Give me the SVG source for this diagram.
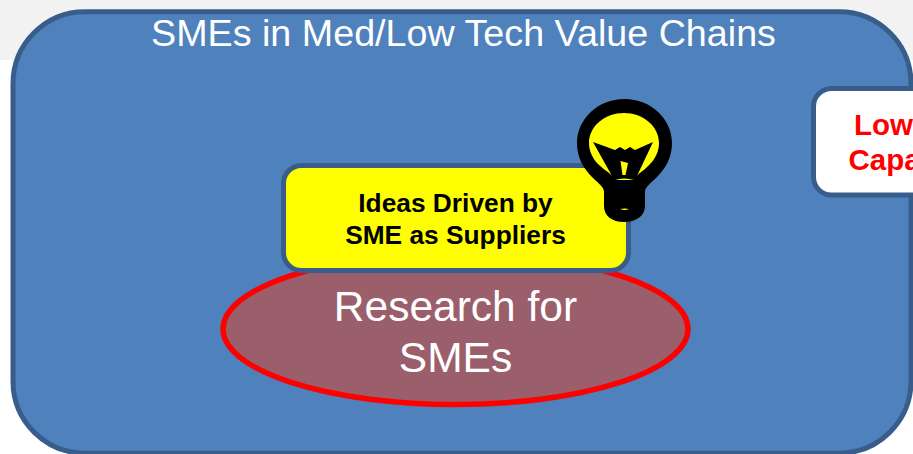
<svg xmlns="http://www.w3.org/2000/svg" width="913" height="454" viewBox="0 0 913 454">
<style>
.w{fill:#fff;font-family:"Liberation Sans",Arial,sans-serif;text-anchor:middle}
.b{fill:#000;font:bold 26.300px "Liberation Sans",Arial,sans-serif;text-anchor:middle}
.r{fill:#f00;font:bold 29.500px "Liberation Sans",Arial,sans-serif}
.box{stroke:#385d8a;stroke-width:5}
</style>
<rect width="913" height="454" fill="#fff"/>
<rect width="913" height="60" fill="#f2f2f2"/>
<g id="outer">
<rect x="13" y="11.700" width="898" height="441.500" rx="72" fill="#4f81bd" stroke="#385d8a" stroke-width="5"/>
<text class="w" x="463.500" y="46" font-size="37.700">SMEs in Med/Low Tech Value Chains</text>
</g>
<g id="research">
<ellipse cx="455.500" cy="329" rx="232.500" ry="75.500" fill="#9b5f6c" stroke="#f00" stroke-width="5.500"/>
<text class="w" x="455.500" y="321" font-size="42.500">Research for</text>
<text class="w" x="455.500" y="372" font-size="42.500">SMEs</text>
</g>
<g id="ideas">
<rect x="283.500" y="165.500" width="345" height="105" rx="18" fill="#ff0" class="box"/>
<text class="b" x="455.500" y="212">Ideas Driven by</text>
<text class="b" x="455.500" y="244">SME as Suppliers</text>
</g>
<g id="bulb">
<path d="M624.500 99C598 99 577 119 577 143C577 157 583 168 592 177C599 184 604 187 604 192L604 206C604 216 612 222 624 222C636 222 645 216 645 206L645 192C645 187 650 184 657 177C666 168 672 157 672 143C672 119 651 99 624.500 99Z" fill="#000"/>
<path d="M624 113C605 113 589 126 589 143C589 150 592 158 598 164C604 170 609 172 612 176L593 142L615 150L620 147L625 150L630 147L635 150L653 142L637 176C640 172 645 170 650 164C656 158 659 150 659 143C659 126 643 113 624 113Z" fill="#ff0"/>
<path d="M620.500 161L628 163L625.500 175L622.500 175Z" fill="#ff0"/>
<path d="M615 180Q624 177 634 180Z" fill="#ff0"/>
<path d="M620 209Q625 208 629 209Q625 211 620 209Z" fill="#ff0"/>
</g>
<g id="low-capacity">
<rect x="813.500" y="88.500" width="140" height="106.500" rx="18" fill="#fff" class="box"/>
<text class="r" x="854" y="135">Low</text>
<text class="r" x="848.500" y="170">Capa</text>
</g>
<g id="connectors"/>
</svg>
